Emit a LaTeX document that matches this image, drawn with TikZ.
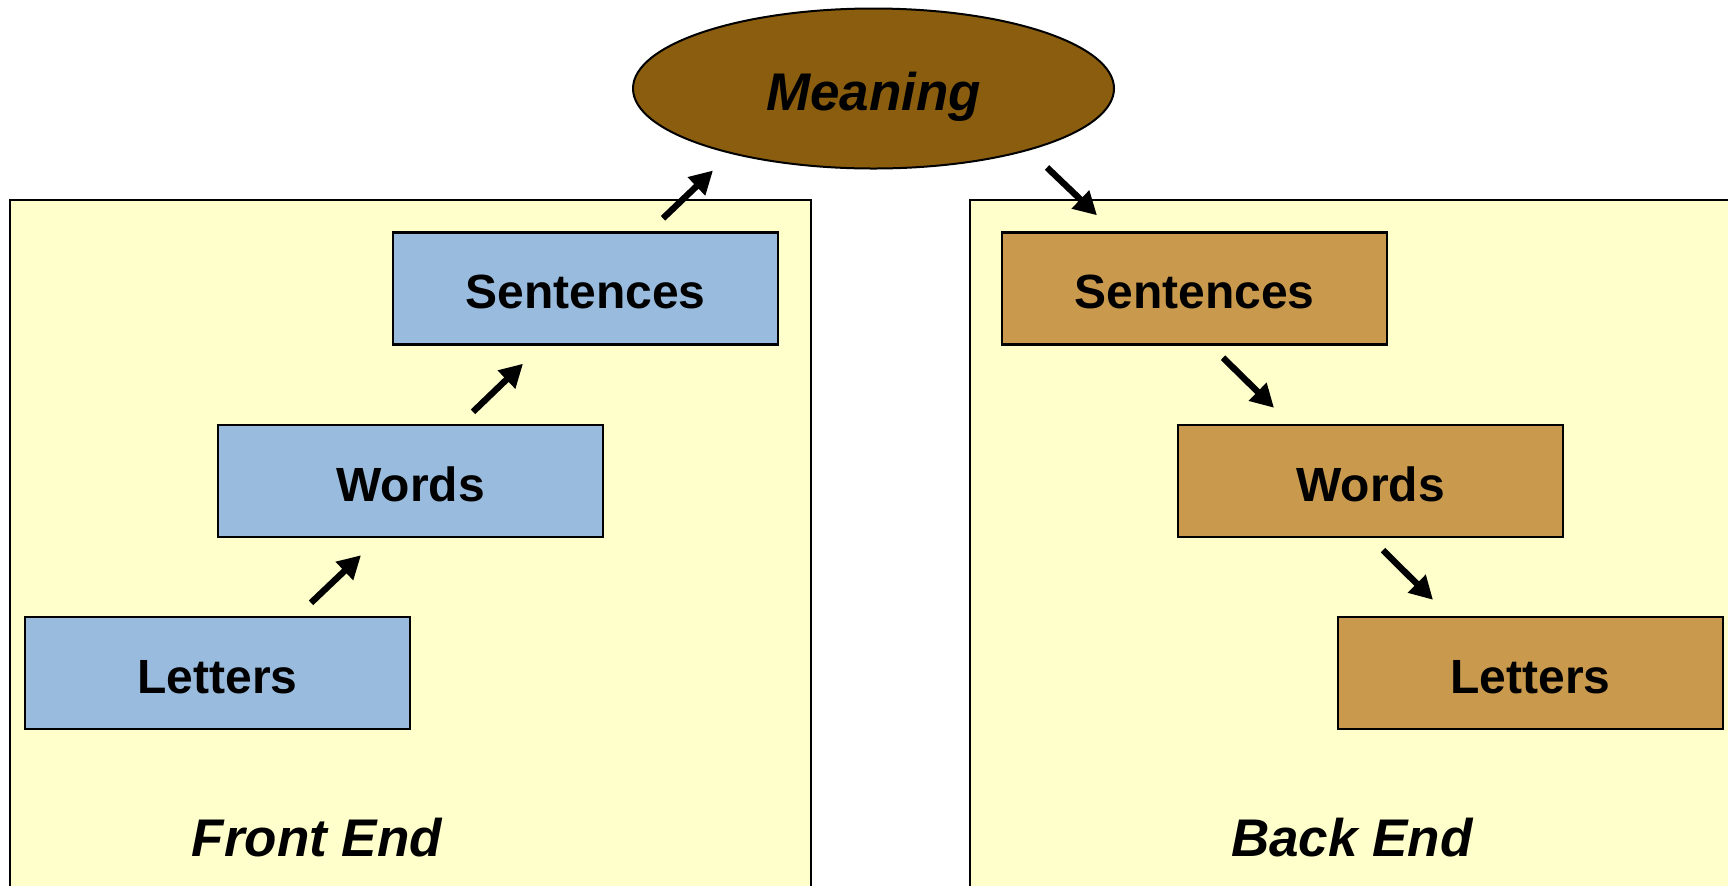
\documentclass[tikz,border=0pt]{standalone}
\usepackage{fontspec}
\setmainfont{Liberation Sans}
\usetikzlibrary{arrows.meta,calc,shapes.geometric}
\definecolor{panelfill}{HTML}{FFFFCC}
\definecolor{frontfill}{HTML}{99BBDD}
\definecolor{backfill}{HTML}{C99A4D}
\definecolor{meaningfill}{HTML}{8B5E0F}
\tikzset{
  panel/.style={draw=black, line width=0.8pt, fill=panelfill},
  levelbox/.style={draw=black, line width=1.2pt, minimum width=192.5pt, minimum height=56pt,
    inner sep=0pt, text height=20.2pt, text depth=0pt,
    font=\fontsize{24}{28}\selectfont\bfseries},
  frontbox/.style={levelbox, fill=frontfill},
  backbox/.style={levelbox, fill=backfill},
  sidelabel/.style={inner sep=0pt, font=\fontsize{26.5}{30}\selectfont\bfseries\itshape},
  flow/.style={line width=3.2pt, -{Triangle[length=11.5pt,width=12pt]}},
}
\begin{document}
\begin{tikzpicture}[x=0.5pt, y=-0.5pt]
  \useasboundingbox (0,0) rectangle (1728,885);
  \clip (0,0) rectangle (1728,885);

  % two processing panels, running off the bottom and right edges
  \path[panel] (10,200) rectangle (811,905);
  \path[panel] (970,200) rectangle (1745,905);

  % central concept
  \node[ellipse, draw=black, line width=1pt, fill=meaningfill,
        minimum width=240.5pt, minimum height=80pt, inner sep=0pt,
        text height=21.5pt, text depth=0pt,
        font=\fontsize{26.5}{30}\selectfont\bfseries\itshape] (m) at (873.5,88.5) {Meaning};

  % front end: letters -> words -> sentences
  \node[frontbox] (fl) at (217.5,673) {Letters};
  \node[frontbox] (fw) at (410.5,481) {Words};
  \node[frontbox] (fs) at (585.5,288.5) {Sentences};

  % back end: sentences -> words -> letters
  \node[backbox] (bs) at (1194.5,288.5) {Sentences};
  \node[backbox] (bw) at (1370.5,481) {Words};
  \node[backbox] (bl) at (1530.5,673) {Letters};

  \node[sidelabel] (fe) at (317,838) {Front End};
  \node[sidelabel] (be) at (1352,838) {Back End};

  % flow arrows
  \draw[flow] ($(fl.north)+(93.5,-13)$) -- ($(fw.south)+(-49.5,17)$);
  \draw[flow] ($(fw.north)+(62.5,-12)$) -- ($(fs.south)+(-62.5,18)$);
  \draw[flow] ($(fs.north)+(77.5,-13)$) -- ($(m.south)+(-160.5,1)$);
  \draw[flow] ($(m.south)+(173.5,-2)$) -- ($(bs.north)+(-97.5,-16)$);
  \draw[flow] ($(bs.south)+(28.5,12)$) -- ($(bw.north)+(-96.5,-16)$);
  \draw[flow] ($(bw.south)+(12.5,12)$) -- ($(bl.north)+(-97.5,-16)$);
\end{tikzpicture}
\end{document}
